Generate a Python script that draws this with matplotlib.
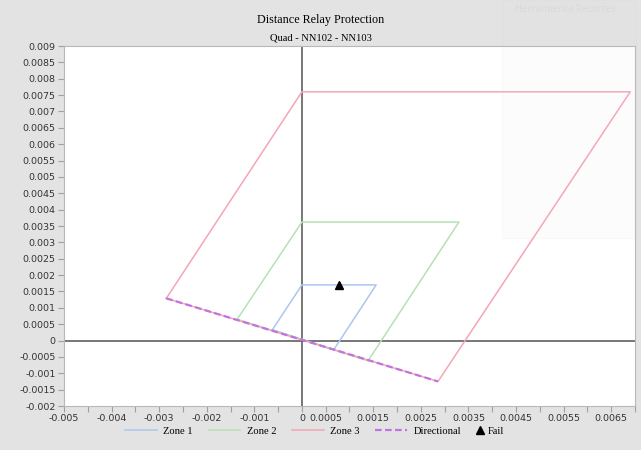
import matplotlib.pyplot as plt
from matplotlib.patches import Rectangle

# zone polygons (R, X)
zone1_r = [-0.00062, 0.0, 0.00156, 0.00067, -0.00062]
zone1_x = [0.00033, 0.0017, 0.0017, -0.00028, 0.00033]
zone2_r = [-0.00136, 0.0, 0.0033, 0.00139, -0.00136]
zone2_x = [0.00065, 0.00362, 0.00362, -0.00062, 0.00065]
zone3_r = [-0.00285, 0.0, 0.0069, 0.00286, -0.00285]
zone3_x = [0.00129, 0.0076, 0.0076, -0.00125, 0.00129]
dir_r = [-0.00285, 0.00286]
dir_x = [0.00129, -0.00125]
fail_r = [0.00077]
fail_x = [0.0017]

xticks = [-0.005 + 0.0005 * i for i in range(25)]
xlabels_shown = ['-0.005', '-0.004', '-0.003', '-0.002', '-0.001', '0',
                 '0.0005', '0.0015', '0.0025', '0.0035', '0.0045', '0.0055', '0.0065']
yticks = [-0.002 + 0.0005 * i for i in range(23)]


def fmt(t):
    s = ('%.4f' % t).rstrip('0').rstrip('.')
    return '0' if s == '-0' else s


bg = '#e3e3e3'
fig = plt.figure(figsize=(6.41, 4.5), dpi=100, facecolor=bg)
ax = fig.add_axes([64/641, 44/450, 571/641, 360/450])
ax.set_facecolor('white')

ax.axhline(0, color='#606060', lw=1.2, zorder=1)
ax.axvline(0, color='#606060', lw=1.2, zorder=1)

l1, = ax.plot(zone1_r, zone1_x, color='#aac8ee', lw=1.1, label='Zone 1', zorder=2)
l2, = ax.plot(zone2_r, zone2_x, color='#b4e2b4', lw=1.1, label='Zone 2', zorder=2)
l3, = ax.plot(zone3_r, zone3_x, color='#f4a6b6', lw=1.1, label='Zone 3', zorder=2)
l4, = ax.plot(dir_r, dir_x, color='#c074e0', lw=1.6, ls=(0, (3, 1.5)), label='Directional', zorder=3)
l5, = ax.plot(fail_r, fail_x, ls='none', marker='^', color='black', ms=6, label='Fail', zorder=4)

ax.set_xlim(-0.005, 0.007)
ax.set_ylim(-0.002, 0.009)
ax.set_xticks(xticks)
ax.set_xticklabels([fmt(t) if fmt(t) in xlabels_shown else '' for t in xticks])
ax.set_yticks(yticks)
ax.set_yticklabels([fmt(t) for t in yticks])
ax.tick_params(labelsize=6.8, colors='#a0a0a0', labelcolor='#333333', length=4, width=0.8, pad=2)
for sp in ax.spines.values():
    sp.set_color('#b8b8b8')

fig.text(0.5, 1 - 20/450, 'Distance Relay Protection', ha='center', va='center',
         family='Liberation Serif', fontsize=8.7)
fig.text(0.5, 1 - 38/450, 'Quad - NN102 - NN103', ha='center', va='center',
         family='Liberation Serif', fontsize=7.6)

lp = {'family': 'Liberation Serif', 'size': 7.6}
leg1 = fig.legend(handles=[l1, l2, l3, l4], loc='center', bbox_to_anchor=(293/641, 1 - 431/450),
                  ncol=4, frameon=False, prop=lp, handlelength=3.0, columnspacing=1.5,
                  handletextpad=0.6)
leg2 = fig.legend(handles=[l5], loc='center', bbox_to_anchor=(490/641, 1 - 431/450),
                  frameon=False, prop=lp, handlelength=0.8, handletextpad=0.4)

# faint ghost window from the screenshot tool
fig.patches.append(Rectangle((502/641, 1 - 238/450), 134/641, 238/450, transform=fig.transFigure,
                             facecolor='#d8d8d8', edgecolor='#d0d0d0', alpha=0.07, lw=0.8, zorder=10))
fig.text(515/641, 1 - 10/450, 'Herramienta Recortes', fontsize=7, color='#dadada', va='center',
         family='Open Sans')

fig.savefig('out.png', dpi=100, facecolor=bg)
